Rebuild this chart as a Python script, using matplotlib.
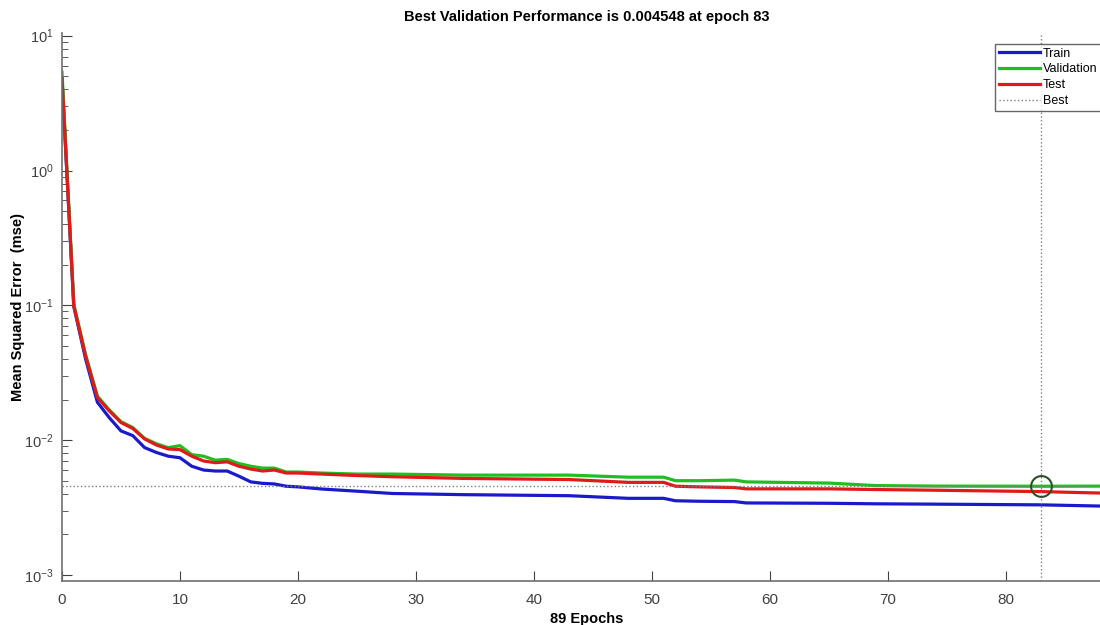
import numpy as np
import matplotlib
matplotlib.use("Agg")
import matplotlib.pyplot as plt

# valores (epocas donde se tomaron lecturas)
epochs = [0, 1, 2, 3, 4, 5, 6, 7, 8, 9, 10, 11, 12, 13, 14, 15, 16, 17, 18, 19, 20,
          22, 25, 28, 34, 43, 48, 51, 52, 54, 57, 58, 65, 69, 74, 83, 89]
train = [4.8, 0.098, 0.040, 0.0191, 0.0147, 0.0117, 0.0108, 0.0088, 0.0081, 0.0076, 0.0074,
         0.0064, 0.0060, 0.0059, 0.0059, 0.0054, 0.0049, 0.00478, 0.00473, 0.00455, 0.00450,
         0.00434, 0.00418, 0.00402, 0.00394, 0.00387, 0.0037, 0.0037, 0.00355, 0.00352, 0.00350,
         0.00342, 0.00340, 0.00337, 0.00335, 0.00331, 0.00323]
validation = [5.35, 0.102, 0.043, 0.0212, 0.0168, 0.0137, 0.0124, 0.0103, 0.0094, 0.0088, 0.0091,
              0.0078, 0.0076, 0.0071, 0.0072, 0.0067, 0.0064, 0.0062, 0.0062, 0.0058, 0.0058,
              0.0057, 0.0056, 0.0056, 0.0055, 0.0055, 0.00531, 0.00531, 0.0050, 0.0050, 0.00505,
              0.0049, 0.0048, 0.0046, 0.00456, 0.004548, 0.00456]
test = [4.8, 0.099, 0.042, 0.0207, 0.0165, 0.0135, 0.0122, 0.0102, 0.0092, 0.0086, 0.0085,
        0.0076, 0.0070, 0.0068, 0.0069, 0.0064, 0.0061, 0.0059, 0.0060, 0.0057, 0.0057,
        0.0056, 0.00546, 0.00535, 0.0052, 0.0051, 0.00486, 0.00486, 0.00455, 0.00450, 0.00445,
        0.00435, 0.00435, 0.0043, 0.00425, 0.00415, 0.00403]

best_epoch = 83
best_perf = 0.004548
n_epochs = 89

plt.rcParams['font.family'] = ['Liberation Sans', 'DejaVu Sans']

fig = plt.figure(figsize=(11, 6.25), dpi=100)
ax = fig.add_axes([62 / 1100, 1 - 581 / 625, 1050 / 1100, 548 / 625])

ax.plot(epochs, train, color='#1a1acc', lw=2.3, label='Train')
ax.plot(epochs, validation, color='#1fbf1f', lw=2.3, label='Validation')
ax.plot(epochs, test, color='#e01a1a', lw=2.3, label='Test')
ax.axvline(best_epoch, color='#808080', ls=':', lw=1, label='Best')
ax.axhline(best_perf, color='#808080', ls=':', lw=1)
ax.plot([best_epoch], [best_perf], 'o', ms=15, mfc='none', mec='#2d4d2d', mew=1.5)

ax.set_yscale('log')
ax.set_xlim(0, n_epochs)
ax.set_ylim(1e-3 * 10 ** -0.045, 10 ** 1.02)
ax.set_xticks(np.arange(0, 81, 10))

for side in ['top', 'right']:
    ax.spines[side].set_visible(False)
for side in ['left', 'bottom']:
    ax.spines[side].set_color('#707070')
    ax.spines[side].set_linewidth(1.2)

ax.tick_params(which='both', direction='in', colors='#404040', labelsize=11)
ax.tick_params(axis='y', labelsize=10.5)
ax.tick_params(which='major', length=7)
ax.tick_params(which='minor', length=4)
ax.tick_params(axis='x', pad=9)
ax.tick_params(axis='y', pad=6)

ax.set_title('Best Validation Performance is 0.004548 at epoch 83', fontsize=10.5,
             fontweight='bold', pad=9)
ax.set_xlabel(f'{n_epochs} Epochs', fontsize=10.5, fontweight='bold', labelpad=3)
ax.set_ylabel('Mean Squared Error  (mse)', fontsize=10.5, fontweight='bold')
ax.yaxis.set_label_coords(-0.035, 0.5)

leg = ax.legend(loc='upper left', bbox_to_anchor=(0.889, 0.98), fontsize=9,
                frameon=True, fancybox=False, handlelength=3.3, borderpad=0.3,
                labelspacing=0.3, handletextpad=0.2, borderaxespad=0)
leg.get_frame().set_edgecolor('#404040')
leg.get_frame().set_linewidth(1)

fig.savefig('out.png', dpi=100)
